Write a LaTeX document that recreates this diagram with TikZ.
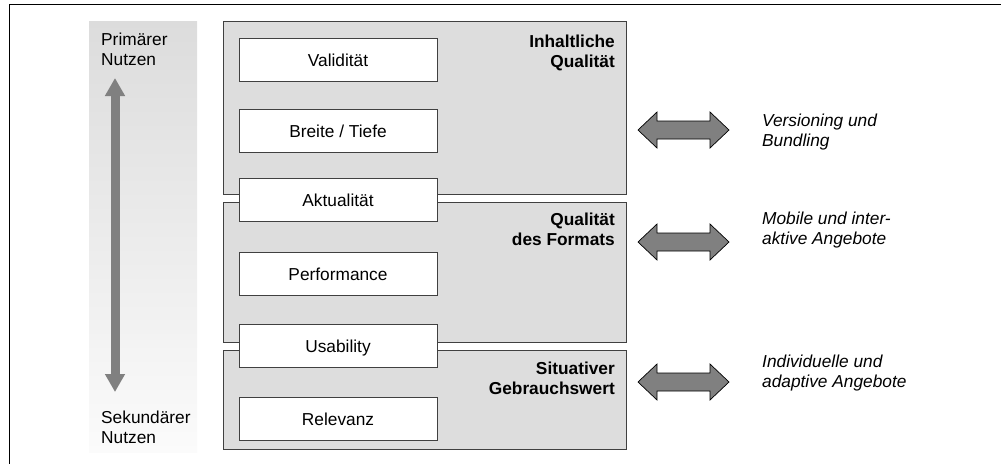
\documentclass[tikz,border=0pt]{standalone}
\usepackage{fontspec}
\setmainfont{Liberation Sans}
\usetikzlibrary{arrows.meta}
\definecolor{boxgray}{HTML}{DDDDDD}
\definecolor{arrgray}{HTML}{808080}
\definecolor{edgegray}{HTML}{404040}
\definecolor{gradtop}{HTML}{DCDCDC}
\definecolor{gradbot}{HTML}{FBFBFB}
\tikzset{
  txt/.style={font=\fontsize{17.3}{20}\selectfont},
  graybox/.style={draw=edgegray, line width=1pt, fill=boxgray, anchor=north west, inner sep=0pt},
  whitebox/.style={draw=edgegray, line width=1pt, fill=white, minimum width=198pt, minimum height=43pt,
     inner sep=0pt, text height=13pt, text depth=0pt, txt},
  boxlabel/.style={txt, font=\fontsize{17.3}{20}\selectfont\bfseries, align=right, anchor=north east, inner sep=0pt},
  sidelabel/.style={txt, align=left, anchor=north west, inner sep=0pt},
  italabel/.style={font=\fontsize{17.3}{20}\selectfont\itshape, align=left, anchor=north west, inner sep=0pt},
  dblarr/.style={draw=black, line width=0.7pt, fill=arrgray, line join=miter},
  varrow/.style={draw=arrgray, line width=9pt, {Triangle[width=19pt,length=18pt]}-{Triangle[width=19pt,length=18pt]}},
}
\begin{document}
\begin{tikzpicture}[x=1pt,y=-1pt]
\useasboundingbox (0,0) rectangle (1001,464);
% frame
\draw[line width=1.2pt] (1001,4.5) -- (9.5,4.5) -- (9.5,464);
% gradient bar
\shade[top color=gradtop, bottom color=gradbot] (89,21) rectangle (197,452);
\coordinate (vtop) at (115,78);
\coordinate (vbot) at (115,392);
\draw[varrow] (vtop) -- (vbot);
\node[sidelabel] (prim) at (101,31.7) {\strut Primärer\\\strut Nutzen};
\node[sidelabel] (sek) at (101,409) {\strut Sekundärer\\\strut Nutzen};
% gray group boxes
\node[graybox, minimum width=403pt, minimum height=173pt] (b1) at (223,21) {};
\node[graybox, minimum width=403pt, minimum height=140pt] (b2) at (223,202) {};
\node[graybox, minimum width=403pt, minimum height=99pt] (b3) at (223,350) {};
\node[boxlabel] (l1) at (615,33) {\strut Inhaltliche\\\strut Qualität};
\node[boxlabel] (l2) at (615,211) {\strut Qualität\\\strut des Formats};
\node[boxlabel] (l3) at (615,360) {\strut Situativer\\\strut Gebrauchswert};
% white boxes
\node[whitebox] (val) at (338,59.5) {Validität};
\node[whitebox] (bt) at (338,131) {Breite / Tiefe};
\node[whitebox] (akt) at (338,199.5) {Aktualität};
\node[whitebox] (perf) at (338,273.5) {Performance};
\node[whitebox] (usa) at (338,346) {Usability};
\node[whitebox] (rel) at (338,418.5) {Relevanz};
% double arrows
\foreach \y in {130,242,382}{
  \draw[dblarr] (638,\y) -- ++(19,-18) -- ++(0,9) -- ++(53,0) -- ++(0,-9) -- ++(19,18)
     -- ++(-19,18) -- ++(0,-9) -- ++(-53,0) -- ++(0,9) -- cycle;
}
\node[italabel] (t1) at (762,112.7) {\strut Versioning und\\\strut Bundling};
\node[italabel] (t2) at (762,210) {\strut Mobile und inter-\\\strut aktive Angebote};
\node[italabel] (t3) at (762,353.5) {\strut Individuelle und\\\strut adaptive Angebote};
\end{tikzpicture}
\end{document}
